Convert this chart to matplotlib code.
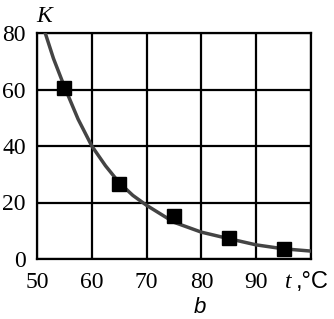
import numpy as np
import matplotlib
matplotlib.use("Agg")
import matplotlib.pyplot as plt

# measured points (squares)
t_pts = [55, 65, 75, 85, 95]
k_pts = [60.5, 26.5, 15.2, 7.4, 3.5]

# fitted curve
t_curve = [51.5, 53, 55, 57.5, 60, 62.5, 65, 67.5, 70, 75, 80, 85, 90, 95, 100]
k_curve = [80, 71, 61, 49.5, 40, 33, 27, 22.5, 19, 13, 9.5, 7.2, 5.0, 3.6, 2.8]

xticks = [50, 60, 70, 80, 90]
yticks = [0, 20, 40, 60, 80]

fig = plt.figure(figsize=(3.34, 3.19), dpi=100)
ax = fig.add_axes([37/334, 1 - 259/319, 274/334, 226/319])

ax.plot(t_curve, k_curve, color="#444444", lw=2.5, zorder=3)
ax.plot(t_pts, k_pts, "s", color="black", ms=10, zorder=4)

ax.set_xlim(50, 100)
ax.set_ylim(0, 80)
ax.set_xticks([50, 60, 70, 80, 90, 100])
ax.set_yticks(yticks)
ax.grid(True, color="black", lw=1.6)
for s in ax.spines.values():
    s.set_linewidth(1.6)
ax.tick_params(length=0)
ax.tick_params(axis="x", pad=9)
ax.tick_params(axis="y", pad=8)
ax.set_xticklabels([str(v) for v in xticks] + [""], family="Liberation Serif", fontsize=17)
ax.set_yticklabels([str(v) for v in yticks], family="Liberation Serif", fontsize=17)

fig.text(36/334, 1 - 16/319, "K", family="Liberation Serif", style="italic",
         fontsize=17, ha="left", va="center")
fig.text(288/334, 1 - 282/319, "t", family="Liberation Serif", style="italic",
         fontsize=17, ha="center", va="center")
fig.text(296/334, 1 - 282/319, ",°C", family="Liberation Sans",
         fontsize=17, ha="left", va="center")
fig.text(200/334, 1 - 318/319, "b", family="Liberation Sans", style="italic",
         fontsize=16, ha="center", va="bottom")

fig.savefig("out.png", dpi=100)
